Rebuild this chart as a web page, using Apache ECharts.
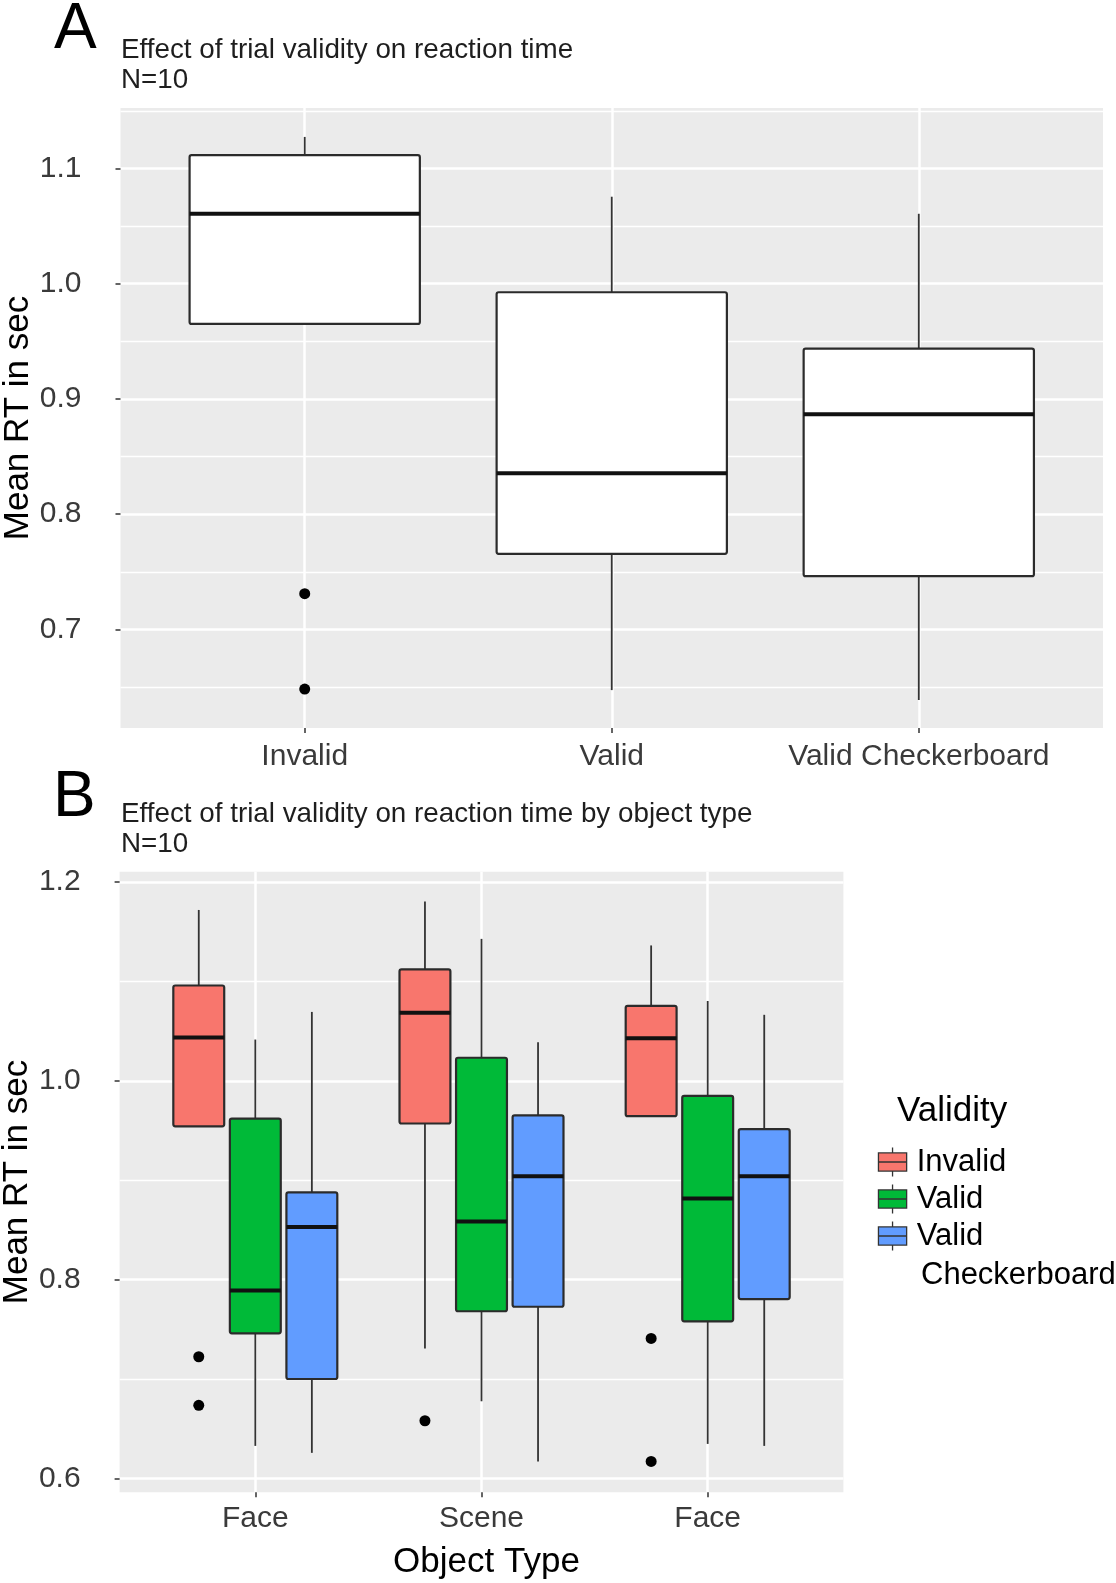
<!DOCTYPE html>
<html><head><meta charset="utf-8">
<script src="https://cdn.jsdelivr.net/npm/echarts@6/dist/echarts.min.js"></script>
<style>html,body{margin:0;padding:0;background:#fff;} #chart{width:1116px;height:1583px;}</style>
</head><body><div id="chart"></div>
<script>
const FONT = "'Liberation Sans', Arial, Helvetica, sans-serif";

// ---------- Panel A data ----------
const categoriesA = ['Invalid', 'Valid', 'Valid Checkerboard'];
// each box: [lower whisker, Q1, median, Q3, upper whisker]
const boxesA = [
  [0.9651, 0.9651, 1.0608, 1.1116, 1.1274],
  [0.6473, 0.7656, 0.8356, 0.9926, 1.0755],
  [0.6387, 0.7462, 0.8867, 0.9436, 1.0607]
];
const outliersA = [[0.731, 0.6482], [], []];
const majorTicksA = [0.7, 0.8, 0.9, 1.0, 1.1];
const minorTicksA = [0.65, 0.75, 0.85, 0.95, 1.05, 1.15];

// ---------- Panel B data ----------
const categoriesB = ['Face', 'Scene', 'Face'];
const validityGroups = ['Invalid', 'Valid', 'Valid Checkerboard'];
const boxesB_Invalid = [
  [0.9543, 0.9543, 1.0437, 1.0960, 1.1720],
  [0.7306, 0.9571, 1.0686, 1.1122, 1.1804],
  [0.9645, 0.9645, 1.0429, 1.0755, 1.1363]
];
const boxesB_Valid = [
  [0.6327, 0.7460, 0.7890, 0.9620, 1.0416],
  [0.6776, 0.7682, 0.8584, 1.0233, 1.1429],
  [0.6347, 0.7580, 0.8816, 0.9849, 1.0804]
];
const boxesB_ValidCheckerboard = [
  [0.6257, 0.7000, 0.8530, 0.8878, 1.0694],
  [0.6171, 0.7727, 0.9041, 0.9653, 1.0388],
  [0.6327, 0.7804, 0.9041, 0.9514, 1.0665]
];
const outliersB_Invalid = [[0.7224, 0.6735], [0.658], [0.7408, 0.6171]];
const outliersB_Valid = [[], [], []];
const outliersB_ValidCheckerboard = [[], [], []];
const majorTicksB = [0.6, 0.8, 1.0, 1.2];
const minorTicksB = [0.7, 0.9, 1.1];

const groupColors = ['#F8766D', '#00BA38', '#619CFF'];
const boxesB = [boxesB_Invalid, boxesB_Valid, boxesB_ValidCheckerboard];
const outliersB = [outliersB_Invalid, outliersB_Valid, outliersB_ValidCheckerboard];

// ---------- rendering helpers ----------
function makeRenderer(halfW, fixedFill) {
  return function (params, api) {
    const x = api.value(0);
    const lo = api.value(1), q1 = api.value(2), md = api.value(3), q3 = api.value(4), hi = api.value(5);
    const tl = api.coord([x - halfW, q3]);
    const br = api.coord([x + halfW, q1]);
    const c = api.coord([x, md]);
    const yHi = api.coord([x, hi])[1];
    const yLo = api.coord([x, lo])[1];
    const fill = fixedFill || api.visual('color');
    return {
      type: 'group',
      children: [
        { type: 'line', shape: { x1: c[0], y1: yHi, x2: c[0], y2: tl[1] }, style: { stroke: '#333', lineWidth: 1.8 } },
        { type: 'line', shape: { x1: c[0], y1: br[1], x2: c[0], y2: yLo }, style: { stroke: '#333', lineWidth: 1.8 } },
        { type: 'rect', shape: { x: tl[0], y: tl[1], width: br[0] - tl[0], height: br[1] - tl[1], r: 2 },
          style: { fill: fill, stroke: '#2b2b2b', lineWidth: 2.2 } },
        { type: 'line', shape: { x1: tl[0], y1: c[1], x2: br[0], y2: c[1] }, style: { stroke: '#111', lineWidth: 4 } }
      ]
    };
  };
}

const series = [];
// Panel A boxes
series.push({
  type: 'custom', name: 'A', xAxisIndex: 0, yAxisIndex: 0, clip: false,
  renderItem: makeRenderer(0.375, '#ffffff'),
  encode: { x: 0, y: [1, 2, 3, 4, 5] },
  data: boxesA.map((b, i) => [i + 1].concat(b)),
  z: 3
});
const outA = [];
outliersA.forEach((vals, i) => vals.forEach(v => outA.push([i + 1, v])));
series.push({
  type: 'scatter', xAxisIndex: 0, yAxisIndex: 0, data: outA, symbolSize: 11,
  itemStyle: { color: '#000', opacity: 1 }, silent: true, z: 4
});

// Panel B boxes
const dodge = [-0.25, 0, 0.25];
validityGroups.forEach((g, gi) => {
  series.push({
    type: 'custom', name: g, xAxisIndex: 1, yAxisIndex: 2, clip: false,
    renderItem: makeRenderer(0.1125),
    itemStyle: { color: groupColors[gi], borderColor: '#333', borderWidth: 1.3 },
    encode: { x: 0, y: [1, 2, 3, 4, 5] },
    data: boxesB[gi].map((b, i) => [i + 1 + dodge[gi]].concat(b)),
    z: 3
  });
  const pts = [];
  outliersB[gi].forEach((vals, i) => vals.forEach(v => pts.push([i + 1 + dodge[gi], v])));
  if (pts.length) {
    series.push({
      type: 'scatter', xAxisIndex: 1, yAxisIndex: 2, data: pts, symbolSize: 11,
      itemStyle: { color: '#000', opacity: 1 }, silent: true, z: 4
    });
  }
});

const tickLabelStyle = { fontFamily: FONT, fontSize: 30, color: '#3a3a3a' };
const gridLineMajor = { show: true, lineStyle: { color: '#ffffff', width: 2.5 } };
const gridLineMinor = { show: true, lineStyle: { color: '#ffffff', width: 1.3 } };

function xAxisFor(gridIndex, cats, margin, name) {
  const pos = cats.map((_, i) => i + 1);
  const ax = {
    gridIndex: gridIndex, type: 'value', min: 0.4, max: 3.6,
    axisLine: { show: false },
    axisTick: { show: true, customValues: pos, length: 5, lineStyle: { color: '#333', width: 1.5 } },
    axisLabel: Object.assign({ customValues: pos, margin: margin, formatter: v => cats[Math.round(v) - 1] }, tickLabelStyle),
    splitLine: gridLineMajor
  };
  if (name) {
    ax.name = name; ax.nameLocation = 'middle'; ax.nameGap = 53; ax.nameMoveOverlap = false;
    ax.nameTextStyle = { fontFamily: FONT, fontSize: 35, color: '#000', padding: [0, 0, 0, 10] };
  }
  return ax;
}
function yMajor(gridIndex, min, max, ticks) {
  return {
    gridIndex: gridIndex, type: 'value', min: min, max: max, position: 'left',
    axisLine: { show: false },
    axisTick: { show: true, customValues: ticks, length: 5, lineStyle: { color: '#333', width: 1.5 } },
    axisLabel: Object.assign({ customValues: ticks, margin: 39, formatter: v => v.toFixed(1) }, tickLabelStyle),
    splitLine: gridLineMajor,
    name: 'Mean RT in sec', nameLocation: 'middle', nameGap: 85, nameRotate: 90, nameMoveOverlap: false,
    nameTextStyle: { fontFamily: FONT, fontSize: 35, color: '#000' }
  };
}
function yMinor(gridIndex, min, max, ticks) {
  return {
    gridIndex: gridIndex, type: 'value', min: min, max: max, position: 'right',
    axisLine: { show: false },
    axisTick: { show: false, customValues: ticks },
    axisLabel: { show: false, customValues: ticks },
    splitLine: gridLineMinor
  };
}

const option = {
  animation: false,
  backgroundColor: '#ffffff',
  textStyle: { fontFamily: FONT },
  grid: [
    { left: 120.5, top: 108, right: 13, bottom: 855, show: true, backgroundColor: '#EBEBEB', borderWidth: 0,
      containLabel: false, outerBoundsMode: 'none' },
    { left: 119.6, top: 871.7, right: 272.6, bottom: 90.7, show: true, backgroundColor: '#EBEBEB', borderWidth: 0,
      containLabel: false, outerBoundsMode: 'none' }
  ],
  xAxis: [xAxisFor(0, categoriesA, 14, null), xAxisFor(1, categoriesB, 11, 'Object Type')],
  yAxis: [
    yMajor(0, 0.6144, 1.1525, majorTicksA),
    yMinor(0, 0.6144, 1.1525, minorTicksA),
    yMajor(1, 0.586, 1.2105, majorTicksB),
    yMinor(1, 0.586, 1.2105, minorTicksB)
  ],
  legend: {
    orient: 'vertical', left: 872.8, top: 1139, itemGap: 1,
    itemWidth: 38.2, itemHeight: 29, symbolKeepAspect: true,
    data: validityGroups.map(n => ({ name: n, icon: 'path://M0,5.4H28V23.4H0Z M0,14.4H28 M14,0V5.4 M14,23.4V28.8' })),
    formatter: n => (n === 'Valid Checkerboard' ? 'Valid' : n),
    itemStyle: { borderColor: '#333', borderWidth: 1.3 },
    textStyle: { fontFamily: FONT, fontSize: 31, color: '#000', lineHeight: 36, padding: [0, 0, 0, 0] },
    selectedMode: false
  },
  graphic: [
    { type: 'text', x: 54, y: 30.5, style: { text: 'A', fontFamily: FONT, fontSize: 64, fill: '#000', verticalAlign: 'middle' } },
    { type: 'text', x: 121, y: 50.6, style: { text: 'Effect of trial validity on reaction time', fontFamily: FONT, fontSize: 27.8, fill: '#1e1e1e', verticalAlign: 'middle' } },
    { type: 'text', x: 121, y: 79.9, style: { text: 'N=10', fontFamily: FONT, fontSize: 27.8, fill: '#1e1e1e', verticalAlign: 'middle' } },
    { type: 'text', x: 53, y: 798.8, style: { text: 'B', fontFamily: FONT, fontSize: 64, fill: '#000', verticalAlign: 'middle' } },
    { type: 'text', x: 121, y: 813.9, style: { text: 'Effect of trial validity on reaction time by object type', fontFamily: FONT, fontSize: 27.8, fill: '#1e1e1e', verticalAlign: 'middle' } },
    { type: 'text', x: 121, y: 843.9, style: { text: 'N=10', fontFamily: FONT, fontSize: 27.8, fill: '#1e1e1e', verticalAlign: 'middle' } },
    { type: 'text', x: 897, y: 1111, style: { text: 'Validity', fontFamily: FONT, fontSize: 35, fill: '#000', verticalAlign: 'middle' } },
    { type: 'text', x: 921, y: 1275, style: { text: 'Checkerboard', fontFamily: FONT, fontSize: 31, fill: '#000', verticalAlign: 'middle' } }
  ],
  series: series
};

const chart = echarts.init(document.getElementById('chart'), null, { renderer: 'canvas' });
chart.setOption(option);
</script>
</body></html>
